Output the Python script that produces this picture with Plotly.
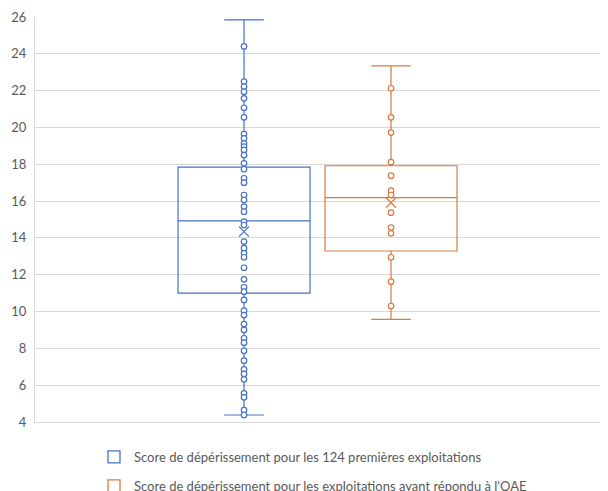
import plotly.graph_objects as go

# ---- data ----
series_names = [
    "Score de dépérissement pour les 124 premières exploitations",
    "Score de dépérissement pour les exploitations ayant répondu à l'OAE",
]
series_colors = ["#4472C4", "#D97B3E"]

# box statistics [series1, series2]
lower_fence = [4.38, 9.58]
q1_vals = [11.00, 13.29]
median_vals = [14.92, 16.19]
q3_vals = [17.85, 17.92]
upper_fence = [25.84, 23.34]
mean_vals = [14.34, 15.91]

# inner points
points_1 = [24.40, 22.49, 22.22, 21.94, 21.58, 21.07, 20.55, 19.64, 19.41,
            19.14, 18.96, 18.78, 18.50, 18.05, 17.73, 17.24, 17.00, 16.33,
            16.06, 15.70, 15.42, 14.88, 14.70, 13.80, 13.44, 13.16, 12.95,
            12.38, 11.75, 11.32, 11.08, 10.63, 10.05, 9.81, 9.32, 9.00, 8.55,
            8.31, 7.87, 7.33, 6.86, 6.61, 6.32, 5.56, 5.34, 4.65, 4.38]
points_2 = [22.13, 20.55, 19.72, 18.12, 17.38, 16.57, 16.33, 15.37, 14.56,
            14.25, 12.95, 11.62, 10.30]
points = [points_1, points_2]

y_ticks = [4, 6, 8, 10, 12, 14, 16, 18, 20, 22, 24, 26]

positions = [0, 1]

fig = go.Figure()

for i in range(2):
    c = series_colors[i]
    fig.add_trace(go.Box(
        x=[positions[i]],
        q1=[q1_vals[i]], median=[median_vals[i]], q3=[q3_vals[i]],
        lowerfence=[lower_fence[i]], upperfence=[upper_fence[i]],
        width=0.898, whiskerwidth=0.3,
        line=dict(color=c, width=1.2),
        fillcolor="rgba(0,0,0,0)",
        boxpoints=False, showlegend=False, hoverinfo="skip",
    ))
    fig.add_trace(go.Scatter(
        x=[positions[i]] * len(points[i]), y=points[i],
        mode="markers",
        marker=dict(symbol="circle", size=5.5, color="white",
                    line=dict(color=c, width=1.2)),
        showlegend=False,
    ))
    fig.add_trace(go.Scatter(
        x=[positions[i]], y=[mean_vals[i]], mode="markers",
        marker=dict(symbol="x-thin-open", size=10, color=c,
                    line=dict(color=c, width=1.2)),
        showlegend=False,
    ))

for i in range(2):
    fig.add_trace(go.Scatter(
        x=[None], y=[None], mode="markers", name=series_names[i],
        legendgroup=f"g{i}",
        marker=dict(symbol="square-open", size=12, color=series_colors[i],
                    line=dict(color=series_colors[i], width=1.3)),
    ))

grid = "#D9D9D9"
fig.update_layout(
    width=600, height=483,
    margin=dict(l=27, r=0, t=9, b=69, autoexpand=False),
    paper_bgcolor="white", plot_bgcolor="white",
    font=dict(family="Lato", size=13, color="#595959"),
    xaxis=dict(range=[-1.422, 2.476], showgrid=False, zeroline=False,
               showticklabels=False, showline=True, linecolor=grid,
               linewidth=1, fixedrange=True),
    yaxis=dict(range=[4, 26], tickvals=y_ticks, showgrid=True,
               gridcolor=grid, gridwidth=1, zeroline=False,
               showline=True, linecolor=grid, linewidth=1,
               ticklabelstandoff=5, tickfont=dict(size=13, color="#595959")),
    legend=dict(x=(86 - 27) / 573, y=-(434 - 414) / 405,
                xanchor="left", yanchor="top", orientation="v",
                traceorder="grouped", tracegroupgap=9,
                font=dict(family="Lato", size=13, color="#595959"),
                bgcolor="rgba(0,0,0,0)"),
    showlegend=True,
)

fig.write_html("out.html")
